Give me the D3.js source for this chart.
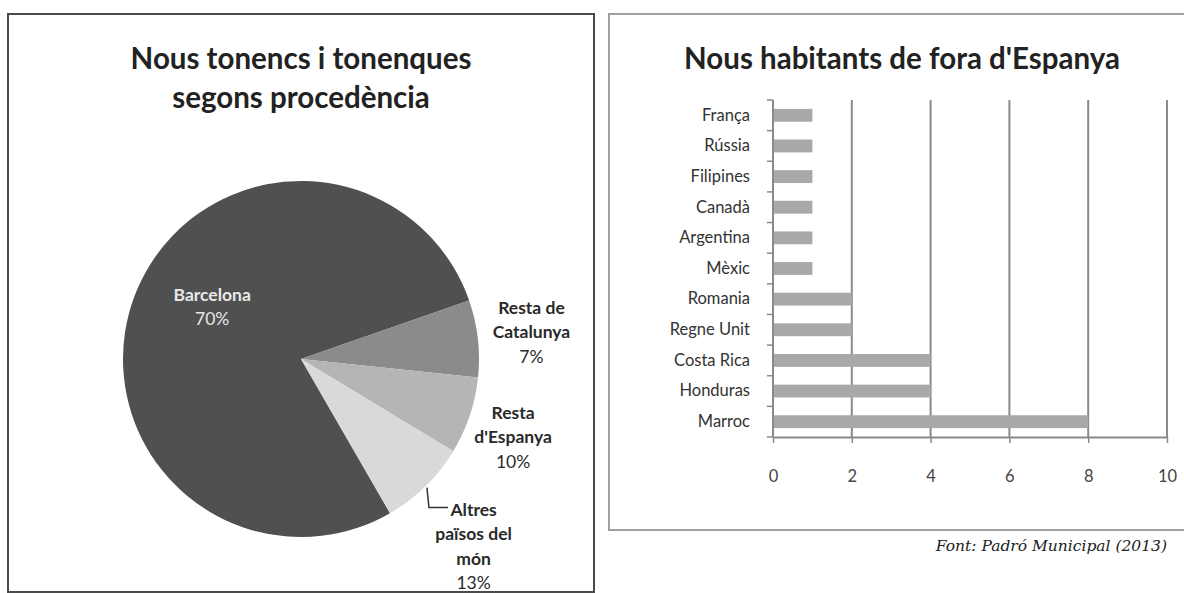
<!DOCTYPE html>
<html>
<head>
<meta charset="utf-8">
<script src="https://cdn.jsdelivr.net/npm/d3@7"></script>
<style>
  body { margin: 0; background: #fff; }
  svg { display: block; font-family: Lato, "Open Sans", sans-serif; }
</style>
</head>
<body>
<svg id="chart" width="1184" height="593"></svg>
<script>
// pie: origin of new residents (slice sizes as drawn, labels as printed)
var pieTitle = ["Nous tonencs i tonenques", "segons procedència"];
var pieNames = [["Barcelona"], ["Resta de", "Catalunya"], ["Resta", "d'Espanya"], ["Altres", "països del", "món"]];
var pieShares = [78, 7, 7, 8];
var pieLabels = ["70%", "7%", "10%", "13%"];
var pieColors = ["#505050", "#8b8b8b", "#b5b5b5", "#d9d9d9"];

// bars: new residents from outside Spain
var barTitle = "Nous habitants de fora d'Espanya";
var countries = ["França", "Rússia", "Filipines", "Canadà", "Argentina", "Mèxic",
                 "Romania", "Regne Unit", "Costa Rica", "Honduras", "Marroc"];
var residents = [1, 1, 1, 1, 1, 1, 2, 2, 4, 4, 8];
var xTicks = [0, 2, 4, 6, 8, 10];
var source = "Font: Padró Municipal (2013)";

var svg = d3.select("#chart");

// ---- left panel ----
svg.append("rect")
   .attr("x", 8).attr("y", 14)
   .attr("width", 586).attr("height", 578)
   .attr("fill", "none")
   .attr("stroke", "#4a4a4a")
   .attr("stroke-width", 2);

svg.selectAll("text.ptitle")
   .data(pieTitle)
   .enter()
   .append("text")
   .attr("class", "ptitle")
   .attr("x", 301)
   .attr("y", function(d, i) { return 69 + i * 39; })
   .attr("text-anchor", "middle")
   .attr("font-size", "29.5px")
   .attr("font-weight", "bold")
   .attr("fill", "#222")
   .text(function(d) { return d; });

var cx = 301, cy = 359, radius = 178;
var deg = Math.PI / 180;

var pie = d3.pie()
            .sort(null)
            .startAngle(150 * deg)
            .endAngle(510 * deg);
var arcs = pie(pieShares);

var arc = d3.arc().innerRadius(0).outerRadius(radius);

var pieG = svg.append("g")
              .attr("transform", "translate(" + cx + "," + cy + ")");

pieG.selectAll("path")
    .data(arcs)
    .enter()
    .append("path")
    .attr("d", arc)
    .attr("fill", function(d, i) { return pieColors[i]; });

// label placement: distance from centre and small angle nudge
var labelLayout = [
  { r: 103, da: 10 },
  { r: 232, da: 0 },
  { r: 226, da: 1.6 },
  { r: 255, da: 1.8 }
];
var lineH = 24.5;

function polar(a, r) {
  return [Math.sin(a) * r, -Math.cos(a) * r];
}

arcs.forEach(function(d, i) {
  var mid = (d.startAngle + d.endAngle) / 2;
  var p = polar(mid + labelLayout[i].da * deg, labelLayout[i].r);
  var lines = pieNames[i].concat([pieLabels[i]]);
  var top = p[1] - (lines.length - 1) * lineH / 2 + 6;
  var inside = i === 0;
  pieG.selectAll(null)
      .data(lines)
      .enter()
      .append("text")
      .attr("x", p[0])
      .attr("y", function(t, j) { return top + j * lineH; })
      .attr("text-anchor", "middle")
      .attr("font-size", "17.5px")
      .attr("font-weight", function(t, j) { return j < lines.length - 1 ? "bold" : "normal"; })
      .attr("fill", inside ? "#e8e8e8" : "#2a2a2a")
      .text(function(t) { return t; });

  // leader line for the last slice
  if (i === 3) {
    var s = polar(mid, radius + 2);
    pieG.append("path")
        .attr("d", d3.line()([s, [s[0] + 2, s[1] + 20], [s[0] + 21, s[1] + 20]]))
        .attr("fill", "none")
        .attr("stroke", "#333")
        .attr("stroke-width", 1.5);
  }
});

// ---- right panel ----
svg.append("rect")
   .attr("x", 609).attr("y", 14)
   .attr("width", 600).attr("height", 516)
   .attr("fill", "none")
   .attr("stroke", "#a0a0a0")
   .attr("stroke-width", 2);

svg.append("text")
   .attr("x", 902)
   .attr("y", 69)
   .attr("text-anchor", "middle")
   .attr("font-size", "29.5px")
   .attr("font-weight", "bold")
   .attr("fill", "#222")
   .text(barTitle);

var xScale = d3.scaleLinear()
               .domain([0, 10])
               .range([773, 1167]);

var yScale = d3.scaleBand()
               .domain(countries)
               .range([100, 437])
               .paddingInner(0.58)
               .paddingOuter(0.29);

var plotTop = 100, plotBottom = 437;

// vertical gridlines
svg.selectAll("line.grid")
   .data(xTicks.slice(1))
   .enter()
   .append("line")
   .attr("class", "grid")
   .attr("x1", function(d) { return xScale(d); })
   .attr("x2", function(d) { return xScale(d); })
   .attr("y1", plotTop)
   .attr("y2", plotBottom)
   .attr("stroke", "#8a8a8a")
   .attr("stroke-width", 2);

// bars
svg.selectAll("rect.bar")
   .data(residents)
   .enter()
   .append("rect")
   .attr("class", "bar")
   .attr("x", xScale(0))
   .attr("y", function(d, i) { return yScale(countries[i]); })
   .attr("width", function(d) { return xScale(d) - xScale(0); })
   .attr("height", yScale.bandwidth())
   .attr("fill", "#a9a9a9");

// y axis: line, category ticks between bands, labels
svg.append("line")
   .attr("x1", xScale(0)).attr("x2", xScale(0))
   .attr("y1", plotTop).attr("y2", plotBottom)
   .attr("stroke", "#8a8a8a")
   .attr("stroke-width", 2);

var bounds = d3.range(countries.length + 1).map(function(i) {
  return plotTop + i * yScale.step();
});
svg.selectAll("line.ytick")
   .data(bounds)
   .enter()
   .append("line")
   .attr("class", "ytick")
   .attr("x1", xScale(0) - 6).attr("x2", xScale(0))
   .attr("y1", function(d) { return d; })
   .attr("y2", function(d) { return d; })
   .attr("stroke", "#8a8a8a")
   .attr("stroke-width", 1.5);

var yAxis = d3.axisLeft(yScale).tickSize(0).tickPadding(23);
var yg = svg.append("g")
            .attr("transform", "translate(" + xScale(0) + ",0)")
            .call(yAxis);
yg.select(".domain").remove();
yg.selectAll("text")
  .attr("font-family", "Lato, sans-serif")
  .attr("font-size", "16.5px")
  .attr("fill", "#333");

// x axis
var xAxis = d3.axisBottom(xScale)
              .tickValues(xTicks)
              .tickSize(6)
              .tickSizeOuter(0)
              .tickPadding(27);
var xg = svg.append("g")
            .attr("transform", "translate(0," + plotBottom + ")")
            .call(xAxis);
xg.select(".domain").attr("stroke", "#8a8a8a").attr("stroke-width", 2);
xg.selectAll(".tick line").attr("stroke", "#8a8a8a").attr("stroke-width", 1.5);
xg.selectAll("text")
  .attr("font-family", "Lato, sans-serif")
  .attr("font-size", "16.5px")
  .attr("fill", "#444");

// source note
svg.append("text")
   .attr("x", 1167)
   .attr("y", 551)
   .attr("text-anchor", "end")
   .style("font-family", "'DejaVu Serif', serif")
   .style("font-style", "italic")
   .style("font-size", "15.5px")
   .attr("fill", "#222")
   .text(source);
</script>
</body>
</html>
